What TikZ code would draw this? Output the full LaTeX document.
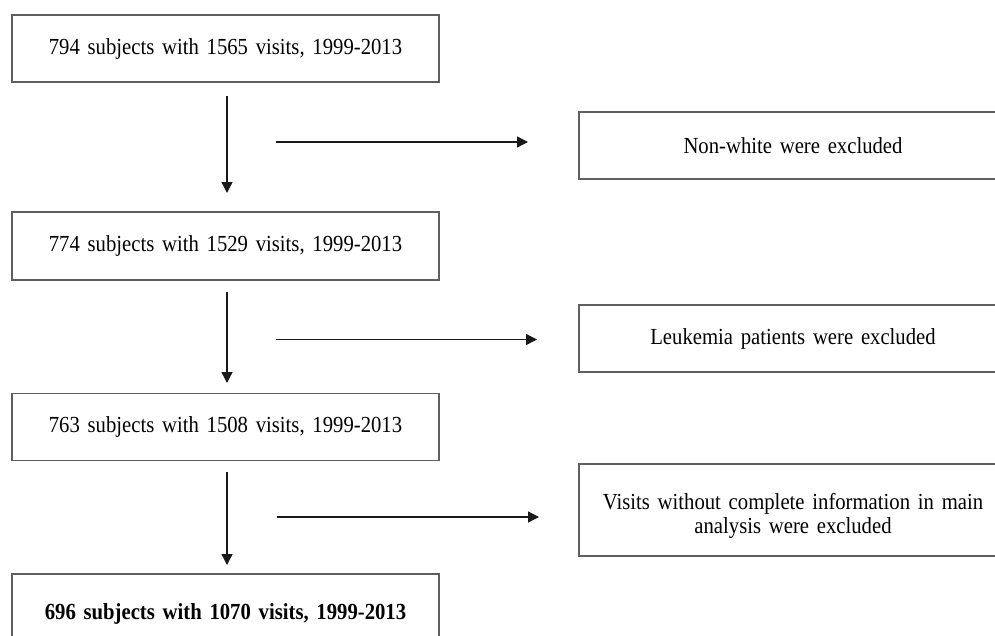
\documentclass[tikz,border=0pt]{standalone}
\usepackage{fontspec}
\setmainfont{Liberation Serif}[WordSpace=1.5, FakeStretch=0.9]
\usetikzlibrary{arrows.meta}
\definecolor{boxline}{RGB}{95,95,95}
\definecolor{arrowline}{RGB}{25,25,25}
\tikzset{
  flowbox/.style={draw=boxline, line width=1.6pt, rectangle, inner sep=0pt, outer sep=0pt,
    align=center, font=\fontsize{23pt}{24pt}\selectfont, text=black},
  mainbox/.style={flowbox, minimum width=427pt, minimum height=67pt},
  sidebox/.style={flowbox, minimum width=428pt, minimum height=67pt},
  flowarrow/.style={draw=arrowline, line width=1.3pt, -{Triangle[length=11pt,width=11pt]}}
}
\begin{document}
\begin{tikzpicture}[x=1pt,y=-1pt]
\useasboundingbox (0,0) rectangle (995,635);
\clip (0,0) rectangle (995,635);
% main column
\node[mainbox] (b1) at (225.5,48.5) {794 subjects with 1565 visits, 1999-2013};
\node[mainbox, minimum height=68pt] (b2) at (225.5,246) {774 subjects with 1529 visits, 1999-2013};
\node[mainbox] (b3) at (225.5,427) {763 subjects with 1508 visits, 1999-2013};
\node[mainbox, minimum height=80pt, font=\fontsize{23pt}{24pt}\selectfont\bfseries] (b4) at (225.5,614) {696 subjects with 1070 visits, 1999-2013};
% exclusion boxes
\node[sidebox] (r1) at (793,145.5) {Non-white were excluded};
\node[sidebox] (r2) at (793,338.5) {Leukemia patients were excluded};
\node[sidebox, minimum height=92pt] (r3) at (793,510) {\raisebox{-7pt}[\height][\depth]{\begin{tabular}{@{}c@{}}Visits without complete information in main\\analysis were excluded\end{tabular}}};
% vertical arrows
\draw[flowarrow, shorten <=14pt, shorten >=19pt] ([xshift=1.5pt]b1.south) -- ([xshift=1.5pt]b2.north);
\draw[flowarrow, shorten <=12pt, shorten >=10.5pt] ([xshift=1.5pt]b2.south) -- ([xshift=1.5pt]b3.north);
\draw[flowarrow, shorten <=11.5pt, shorten >=9pt] ([xshift=1.5pt]b3.south) -- ([xshift=1.5pt]b4.north);
% horizontal arrows
\coordinate (h1) at (276,142);
\coordinate (h2) at (276,339.5);
\coordinate (h3) at (277,517);
\draw[flowarrow, shorten >=51pt] (h1) -- (h1 -| r1.west);
\draw[flowarrow, shorten >=42pt] (h2) -- (h2 -| r2.west);
\draw[flowarrow, shorten >=40pt] (h3) -- (h3 -| r3.west);
\end{tikzpicture}
\end{document}
